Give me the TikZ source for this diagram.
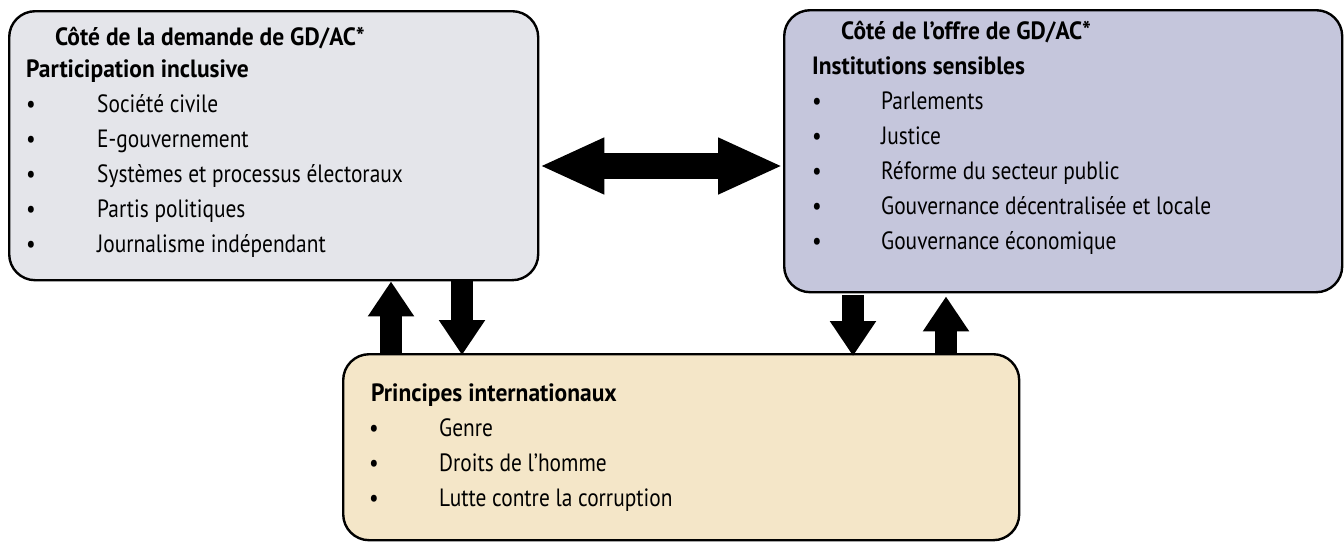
\documentclass[tikz,border=0pt]{standalone}
\usepackage{fontspec}
\setmainfont{PT Sans}[FakeStretch=0.855,BoldFeatures={FakeStretch=0.94}]
\usetikzlibrary{arrows.meta}
\definecolor{demfill}{RGB}{228,229,234}
\definecolor{offfill}{RGB}{197,198,220}
\definecolor{prifill}{RGB}{244,230,200}
\tikzset{
  panel/.style={draw=black, line width=2.4pt, rounded corners=26pt, inner sep=0pt, anchor=north west},
  txt/.style={anchor=base west, inner sep=0pt, font=\fontsize{25}{30}\selectfont},
  hdr/.style={txt, font=\fontsize{25}{30}\selectfont\bfseries},
  blk/.style={line width=22pt, -{Triangle[width=44pt,length=35pt]}},
  dblk/.style={line width=26pt, {Triangle[width=52pt,length=65pt]}-{Triangle[width=52pt,length=65pt]}}
}
\begin{document}
\begin{tikzpicture}[x=1pt,y=-1pt]
\useasboundingbox (0,0) rectangle (1344,542);
% panels
\node[panel, fill=demfill, minimum width=529pt, minimum height=269pt] (L) at (8,10) {};
\node[panel, fill=offfill, minimum width=558pt, minimum height=282pt] (R) at (783,9) {};
\node[panel, fill=prifill, minimum width=676pt, minimum height=186pt] (B) at (342,353) {};
% left texts
\node[hdr] (l0) at (55,45) {Côté de la demande de GD/AC*};
\node[hdr] (l1) at (26,77) {Participation inclusive};
\foreach \y/\t [count=\i] in {112/Société civile,147/E-gouvernement,182/Systèmes et processus électoraux,217/Partis politiques,252/Journalisme indépendant}{
  \node[txt] (lb\i) at (26,\y) {•};
  \node[txt] (lt\i) at (97,\y) {\t};
}
% right texts
\node[hdr] (r0) at (841,39) {Côté de l’offre de GD/AC*};
\node[hdr] (r1) at (812,74) {Institutions sensibles};
\foreach \y/\t [count=\i] in {109/Parlements,144/Justice,179/Réforme du secteur public,214/Gouvernance décentralisée et locale,249/Gouvernance économique}{
  \node[txt] (rb\i) at (812,\y) {•};
  \node[txt] (rt\i) at (881,\y) {\t};
}
% bottom texts
\node[hdr] (b0) at (371,401) {Principes internationaux};
\foreach \y/\t [count=\i] in {436/Genre,471/Droits de l’homme,506/Lutte contre la corruption}{
  \node[txt] (bb\i) at (369,\y) {•};
  \node[txt] (bt\i) at (439,\y) {\t};
}
% arrows
\draw[dblk] (L.east |- 0,166) -- (R.west |- 0,166);
\draw[blk] (B.north -| 391,0) -- (L.south -| 391,0);
\draw[blk] (L.south -| 462,0) -- ([yshift=-2pt]B.north -| 462,0);
\draw[blk] ([yshift=-2pt]R.south -| 853,0) -- ([yshift=-3pt]B.north -| 853,0);
\draw[blk] (B.north -| 946,0) -- ([yshift=-3pt]R.south -| 946,0);
\end{tikzpicture}
\end{document}
